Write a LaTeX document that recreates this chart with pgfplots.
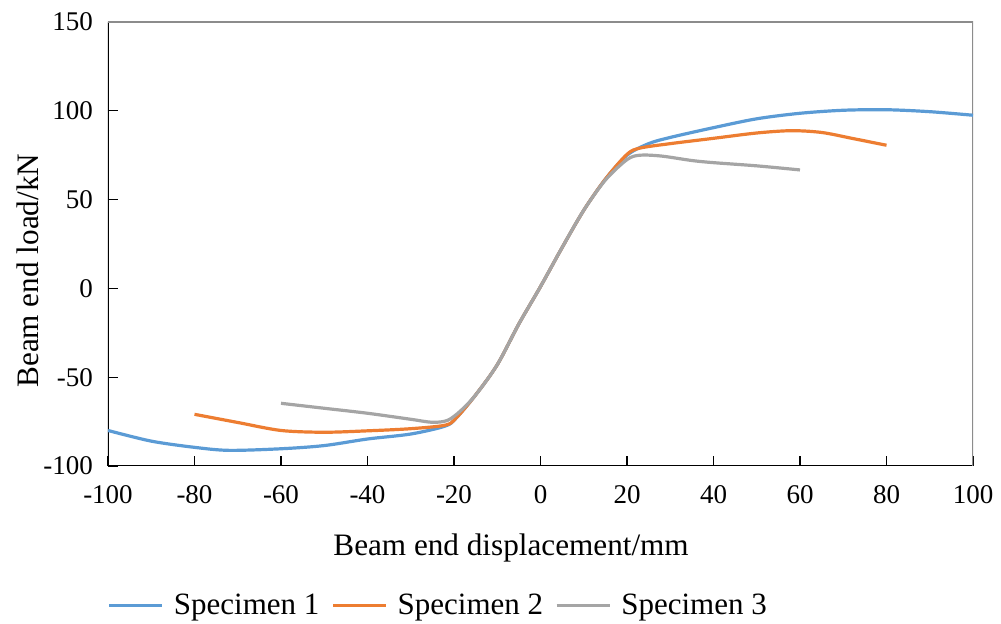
\documentclass[border=0pt]{standalone}
\usepackage{fontspec}
\setmainfont{Liberation Serif}
\usepackage{pgfplots}
\pgfplotsset{compat=1.18}
\definecolor{sblue}{HTML}{5B9BD5}
\definecolor{sorange}{HTML}{ED7D31}
\definecolor{sgray}{HTML}{A5A5A5}
\begin{document}
\begin{tikzpicture}
\begin{axis}[
  scale only axis,
  width=432.5pt, height=222pt,
  xmin=-100, xmax=100, ymin=-100, ymax=150,
  xtick={-100,-80,...,100}, ytick={-100,-50,...,150},
  tick align=inside, xtick pos=bottom, ytick pos=left,
  major tick length=5pt,
  tick style={black, line width=0.6pt},
  axis line style={draw=none},
  /pgf/number format/assume math mode=true,
  ticklabel style={font=\fontsize{13.5}{15}\selectfont},
  xticklabel style={yshift=-6pt},
  yticklabel style={xshift=-4pt},
  label style={font=\fontsize{15.6}{19}\selectfont},
  xlabel={Beam end displacement/mm},
  ylabel={Beam end load/kN},
  xlabel style={at={(axis description cs:0.466,-0.1847)}, anchor=center},
  ylabel style={at={(axis description cs:-0.0925,0.44)}, anchor=center},
  legend columns=3,
  legend style={draw=none, fill=none, at={(axis description cs:0.383,-0.315)}, anchor=center,
    font=\fontsize{15.5}{18}\selectfont,
    /tikz/every odd column/.append style={column sep=3pt},
    /tikz/every even column/.append style={column sep=4pt}},
  legend image code/.code={\draw[#1, line width=1.6pt] (0pt,0pt) -- (26.5pt,0pt);},
  every axis plot/.append style={line width=1.6pt, smooth, tension=0.5},
]
\coordinate (ll) at (rel axis cs:0,0);
\coordinate (ur) at (rel axis cs:1,1);
\draw[black, line width=1pt] (rel axis cs:0,1) -- (rel axis cs:0,0) -- (rel axis cs:1,0);
\draw[gray!90, line width=0.9pt] (rel axis cs:0,1) -- (rel axis cs:1,1) -- (rel axis cs:1,0);
\addplot[sblue] coordinates {
(-100,-80) (-90,-86) (-80,-89.5) (-72,-91.2) (-60,-90.3) (-50,-88.5) (-40,-84.8) (-30,-82)
(-22,-77.5) (-19.5,-73) (-15,-60) (-10,-43) (-5,-20) (0,1) (5,23) (10,44) (15,61.5) (20,75)
(25,81.5) (30,85) (40,90.5) (50,95.5) (60,98.6)
(70,100.3) (80,100.6) (90,99.5) (100,97.5)};
\addlegendentry{Specimen 1}
\addplot[sorange] coordinates {
(-80,-70.9) (-70,-75.5) (-60,-80) (-50,-81) (-40,-80.2) (-30,-79) (-22,-77)
(-19.5,-73) (-15,-60) (-10,-43) (-5,-20) (0,1) (5,23) (10,44) (15,61.5) (20,75.5)
(23,79) (30,81.5) (40,84.5) (50,87.5) (58,88.8)
(65,87.8) (72,84.5) (80,80.6)};
\addlegendentry{Specimen 2}
\addplot[sgray] coordinates {
(-60,-64.7) (-50,-67.5) (-40,-70.3) (-30,-73.7) (-25,-75.4) (-21.5,-74.3)
(-18.5,-69) (-15,-60) (-10,-43) (-5,-20) (0,1) (5,23) (10,44) (15,61) (20,72.5)
(23,75) (28,74.5) (35,72) (40,70.8)
(50,69) (60,66.7)};
\addlegendentry{Specimen 3}
\end{axis}
\pgfresetboundingbox
\path[use as bounding box] ([shift={(-54pt,-79pt)}]ll) rectangle ([shift={(14pt,11pt)}]ur);
\end{tikzpicture}
\end{document}
